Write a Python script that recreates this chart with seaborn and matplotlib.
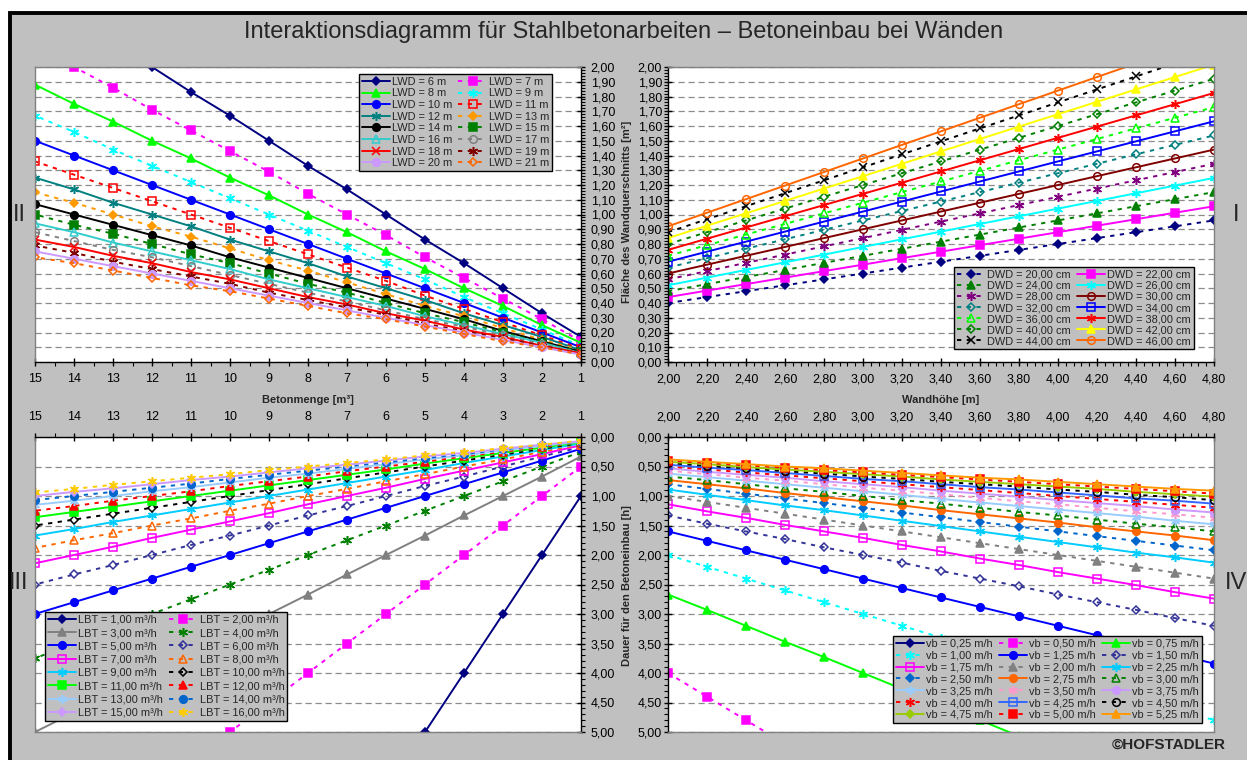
import seaborn as sns
import matplotlib.pyplot as plt
from matplotlib.patches import Rectangle
from matplotlib.ticker import MultipleLocator, FuncFormatter

# ============================================================
# 1. DATA
# ============================================================
volume = [1, 2, 3, 4, 5, 6, 7, 8, 9, 10, 11, 12, 13, 14, 15]          # Betonmenge [m3]
height = [2.0, 2.2, 2.4, 2.6, 2.8, 3.0, 3.2, 3.4, 3.6, 3.8, 4.0, 4.2, 4.4, 4.6, 4.8]  # Wandhoehe [m]

lwd = [6, 7, 8, 9, 10, 11, 12, 13, 14, 15, 16, 17, 18, 19, 20, 21]
area_lwd = [
    [0.17, 0.33, 0.50, 0.67, 0.83, 1.00, 1.17, 1.33, 1.50, 1.67, 1.83, 2.00, 2.17, 2.33, 2.50],
    [0.14, 0.29, 0.43, 0.57, 0.71, 0.86, 1.00, 1.14, 1.29, 1.43, 1.57, 1.71, 1.86, 2.00, 2.14],
    [0.13, 0.25, 0.38, 0.50, 0.63, 0.75, 0.88, 1.00, 1.13, 1.25, 1.38, 1.50, 1.63, 1.75, 1.88],
    [0.11, 0.22, 0.33, 0.44, 0.56, 0.67, 0.78, 0.89, 1.00, 1.11, 1.22, 1.33, 1.44, 1.56, 1.67],
    [0.10, 0.20, 0.30, 0.40, 0.50, 0.60, 0.70, 0.80, 0.90, 1.00, 1.10, 1.20, 1.30, 1.40, 1.50],
    [0.09, 0.18, 0.27, 0.36, 0.45, 0.55, 0.64, 0.73, 0.82, 0.91, 1.00, 1.09, 1.18, 1.27, 1.36],
    [0.08, 0.17, 0.25, 0.33, 0.42, 0.50, 0.58, 0.67, 0.75, 0.83, 0.92, 1.00, 1.08, 1.17, 1.25],
    [0.08, 0.15, 0.23, 0.31, 0.38, 0.46, 0.54, 0.62, 0.69, 0.77, 0.85, 0.92, 1.00, 1.08, 1.15],
    [0.07, 0.14, 0.21, 0.29, 0.36, 0.43, 0.50, 0.57, 0.64, 0.71, 0.79, 0.86, 0.93, 1.00, 1.07],
    [0.07, 0.13, 0.20, 0.27, 0.33, 0.40, 0.47, 0.53, 0.60, 0.67, 0.73, 0.80, 0.87, 0.93, 1.00],
    [0.06, 0.13, 0.19, 0.25, 0.31, 0.38, 0.44, 0.50, 0.56, 0.63, 0.69, 0.75, 0.81, 0.88, 0.94],
    [0.06, 0.12, 0.18, 0.24, 0.29, 0.35, 0.41, 0.47, 0.53, 0.59, 0.65, 0.71, 0.76, 0.82, 0.88],
    [0.06, 0.11, 0.17, 0.22, 0.28, 0.33, 0.39, 0.44, 0.50, 0.56, 0.61, 0.67, 0.72, 0.78, 0.83],
    [0.05, 0.11, 0.16, 0.21, 0.26, 0.32, 0.37, 0.42, 0.47, 0.53, 0.58, 0.63, 0.68, 0.74, 0.79],
    [0.05, 0.10, 0.15, 0.20, 0.25, 0.30, 0.35, 0.40, 0.45, 0.50, 0.55, 0.60, 0.65, 0.70, 0.75],
    [0.05, 0.10, 0.14, 0.19, 0.24, 0.29, 0.33, 0.38, 0.43, 0.48, 0.52, 0.57, 0.62, 0.67, 0.71],
]

dwd = [20, 22, 24, 26, 28, 30, 32, 34, 36, 38, 40, 42, 44, 46]
area_dwd = [
    [0.40, 0.44, 0.48, 0.52, 0.56, 0.60, 0.64, 0.68, 0.72, 0.76, 0.80, 0.84, 0.88, 0.92, 0.96],
    [0.44, 0.484, 0.528, 0.572, 0.616, 0.66, 0.704, 0.748, 0.792, 0.836, 0.88, 0.924, 0.968, 1.012, 1.056],
    [0.48, 0.528, 0.576, 0.624, 0.672, 0.72, 0.768, 0.816, 0.864, 0.912, 0.96, 1.008, 1.056, 1.104, 1.152],
    [0.52, 0.572, 0.624, 0.676, 0.728, 0.78, 0.832, 0.884, 0.936, 0.988, 1.04, 1.092, 1.144, 1.196, 1.248],
    [0.56, 0.616, 0.672, 0.728, 0.784, 0.84, 0.896, 0.952, 1.008, 1.064, 1.12, 1.176, 1.232, 1.288, 1.344],
    [0.60, 0.66, 0.72, 0.78, 0.84, 0.90, 0.96, 1.02, 1.08, 1.14, 1.20, 1.26, 1.32, 1.38, 1.44],
    [0.64, 0.704, 0.768, 0.832, 0.896, 0.96, 1.024, 1.088, 1.152, 1.216, 1.28, 1.344, 1.408, 1.472, 1.536],
    [0.68, 0.748, 0.816, 0.884, 0.952, 1.02, 1.088, 1.156, 1.224, 1.292, 1.36, 1.428, 1.496, 1.564, 1.632],
    [0.72, 0.792, 0.864, 0.936, 1.008, 1.08, 1.152, 1.224, 1.296, 1.368, 1.44, 1.512, 1.584, 1.656, 1.728],
    [0.76, 0.836, 0.912, 0.988, 1.064, 1.14, 1.216, 1.292, 1.368, 1.444, 1.52, 1.596, 1.672, 1.748, 1.824],
    [0.80, 0.88, 0.96, 1.04, 1.12, 1.20, 1.28, 1.36, 1.44, 1.52, 1.60, 1.68, 1.76, 1.84, 1.92],
    [0.84, 0.924, 1.008, 1.092, 1.176, 1.26, 1.344, 1.428, 1.512, 1.596, 1.68, 1.764, 1.848, 1.932, 2.016],
    [0.88, 0.968, 1.056, 1.144, 1.232, 1.32, 1.408, 1.496, 1.584, 1.672, 1.76, 1.848, 1.936, 2.024, 2.112],
    [0.92, 1.012, 1.104, 1.196, 1.288, 1.38, 1.472, 1.564, 1.656, 1.748, 1.84, 1.932, 2.024, 2.116, 2.208],
]

lbt = [1, 2, 3, 4, 5, 6, 7, 8, 9, 10, 11, 12, 13, 14, 15, 16]
time_lbt = [
    [1.00, 2.00, 3.00, 4.00, 5.00, 6.00, 7.00, 8.00, 9.00, 10.00, 11.00, 12.00, 13.00, 14.00, 15.00],
    [0.50, 1.00, 1.50, 2.00, 2.50, 3.00, 3.50, 4.00, 4.50, 5.00, 5.50, 6.00, 6.50, 7.00, 7.50],
    [0.33, 0.67, 1.00, 1.33, 1.67, 2.00, 2.33, 2.67, 3.00, 3.33, 3.67, 4.00, 4.33, 4.67, 5.00],
    [0.25, 0.50, 0.75, 1.00, 1.25, 1.50, 1.75, 2.00, 2.25, 2.50, 2.75, 3.00, 3.25, 3.50, 3.75],
    [0.20, 0.40, 0.60, 0.80, 1.00, 1.20, 1.40, 1.60, 1.80, 2.00, 2.20, 2.40, 2.60, 2.80, 3.00],
    [0.17, 0.33, 0.50, 0.67, 0.83, 1.00, 1.17, 1.33, 1.50, 1.67, 1.83, 2.00, 2.17, 2.33, 2.50],
    [0.14, 0.29, 0.43, 0.57, 0.71, 0.86, 1.00, 1.14, 1.29, 1.43, 1.57, 1.71, 1.86, 2.00, 2.14],
    [0.13, 0.25, 0.38, 0.50, 0.63, 0.75, 0.88, 1.00, 1.13, 1.25, 1.38, 1.50, 1.63, 1.75, 1.88],
    [0.11, 0.22, 0.33, 0.44, 0.56, 0.67, 0.78, 0.89, 1.00, 1.11, 1.22, 1.33, 1.44, 1.56, 1.67],
    [0.10, 0.20, 0.30, 0.40, 0.50, 0.60, 0.70, 0.80, 0.90, 1.00, 1.10, 1.20, 1.30, 1.40, 1.50],
    [0.09, 0.18, 0.27, 0.36, 0.45, 0.55, 0.64, 0.73, 0.82, 0.91, 1.00, 1.09, 1.18, 1.27, 1.36],
    [0.08, 0.17, 0.25, 0.33, 0.42, 0.50, 0.58, 0.67, 0.75, 0.83, 0.92, 1.00, 1.08, 1.17, 1.25],
    [0.08, 0.15, 0.23, 0.31, 0.38, 0.46, 0.54, 0.62, 0.69, 0.77, 0.85, 0.92, 1.00, 1.08, 1.15],
    [0.07, 0.14, 0.21, 0.29, 0.36, 0.43, 0.50, 0.57, 0.64, 0.71, 0.79, 0.86, 0.93, 1.00, 1.07],
    [0.07, 0.13, 0.20, 0.27, 0.33, 0.40, 0.47, 0.53, 0.60, 0.67, 0.73, 0.80, 0.87, 0.93, 1.00],
    [0.06, 0.13, 0.19, 0.25, 0.31, 0.38, 0.44, 0.50, 0.56, 0.63, 0.69, 0.75, 0.81, 0.88, 0.94],
]

vb = [0.25, 0.50, 0.75, 1.00, 1.25, 1.50, 1.75, 2.00, 2.25, 2.50, 2.75,
      3.00, 3.25, 3.50, 3.75, 4.00, 4.25, 4.50, 4.75, 5.00, 5.25]
time_vb = [
    [8.00, 8.80, 9.60, 10.40, 11.20, 12.00, 12.80, 13.60, 14.40, 15.20, 16.00, 16.80, 17.60, 18.40, 19.20],
    [4.00, 4.40, 4.80, 5.20, 5.60, 6.00, 6.40, 6.80, 7.20, 7.60, 8.00, 8.40, 8.80, 9.20, 9.60],
    [2.67, 2.93, 3.20, 3.47, 3.73, 4.00, 4.27, 4.53, 4.80, 5.07, 5.33, 5.60, 5.87, 6.13, 6.40],
    [2.00, 2.20, 2.40, 2.60, 2.80, 3.00, 3.20, 3.40, 3.60, 3.80, 4.00, 4.20, 4.40, 4.60, 4.80],
    [1.60, 1.76, 1.92, 2.08, 2.24, 2.40, 2.56, 2.72, 2.88, 3.04, 3.20, 3.36, 3.52, 3.68, 3.84],
    [1.33, 1.47, 1.60, 1.73, 1.87, 2.00, 2.13, 2.27, 2.40, 2.53, 2.67, 2.80, 2.93, 3.07, 3.20],
    [1.14, 1.26, 1.37, 1.49, 1.60, 1.71, 1.83, 1.94, 2.06, 2.17, 2.29, 2.40, 2.51, 2.63, 2.74],
    [1.00, 1.10, 1.20, 1.30, 1.40, 1.50, 1.60, 1.70, 1.80, 1.90, 2.00, 2.10, 2.20, 2.30, 2.40],
    [0.89, 0.98, 1.07, 1.16, 1.24, 1.33, 1.42, 1.51, 1.60, 1.69, 1.78, 1.87, 1.96, 2.04, 2.13],
    [0.80, 0.88, 0.96, 1.04, 1.12, 1.20, 1.28, 1.36, 1.44, 1.52, 1.60, 1.68, 1.76, 1.84, 1.92],
    [0.73, 0.80, 0.87, 0.95, 1.02, 1.09, 1.16, 1.24, 1.31, 1.38, 1.45, 1.53, 1.60, 1.67, 1.75],
    [0.67, 0.73, 0.80, 0.87, 0.93, 1.00, 1.07, 1.13, 1.20, 1.27, 1.33, 1.40, 1.47, 1.53, 1.60],
    [0.62, 0.68, 0.74, 0.80, 0.86, 0.92, 0.98, 1.05, 1.11, 1.17, 1.23, 1.29, 1.35, 1.42, 1.48],
    [0.57, 0.63, 0.69, 0.74, 0.80, 0.86, 0.91, 0.97, 1.03, 1.09, 1.14, 1.20, 1.26, 1.31, 1.37],
    [0.53, 0.59, 0.64, 0.69, 0.75, 0.80, 0.85, 0.91, 0.96, 1.01, 1.07, 1.12, 1.17, 1.23, 1.28],
    [0.50, 0.55, 0.60, 0.65, 0.70, 0.75, 0.80, 0.85, 0.90, 0.95, 1.00, 1.05, 1.10, 1.15, 1.20],
    [0.47, 0.52, 0.56, 0.61, 0.66, 0.71, 0.75, 0.80, 0.85, 0.89, 0.94, 0.99, 1.04, 1.08, 1.13],
    [0.44, 0.49, 0.53, 0.58, 0.62, 0.67, 0.71, 0.76, 0.80, 0.84, 0.89, 0.93, 0.98, 1.02, 1.07],
    [0.42, 0.46, 0.51, 0.55, 0.59, 0.63, 0.67, 0.72, 0.76, 0.80, 0.84, 0.88, 0.93, 0.97, 1.01],
    [0.40, 0.44, 0.48, 0.52, 0.56, 0.60, 0.64, 0.68, 0.72, 0.76, 0.80, 0.84, 0.88, 0.92, 0.96],
    [0.38, 0.42, 0.46, 0.50, 0.53, 0.57, 0.61, 0.65, 0.69, 0.72, 0.76, 0.80, 0.84, 0.88, 0.91],
]

def de(v, nd=2):
    return f"{v:.{nd}f}".replace(".", ",")

lwd_labels = [f"LWD = {v} m" for v in lwd]
dwd_labels = [f"DWD = {de(v)} cm" for v in dwd]
lbt_labels = [f"LBT = {de(v)} m³/h" for v in lbt]
vb_labels = [f"vb = {de(v)} m/h" for v in vb]

# ============================================================
# 2. SERIES STYLES (colour, marker, dashed, filled)
# ============================================================
AST = (6, 2, 0)
lwd_styles = [
    ("#000080", "D", False, True), ("#FF00FF", "s", True, True),
    ("#00FF00", "^", False, True), ("#00FFFF", AST, True, True),
    ("#0000FF", "o", False, True), ("#FF0000", "s", True, False),
    ("#008080", AST, False, True), ("#FF9900", "D", True, True),
    ("#000000", "o", False, True), ("#008000", "s", True, True),
    ("#33CCCC", "^", False, False), ("#808080", "o", True, False),
    ("#FF0000", "x", False, True), ("#800000", AST, True, True),
    ("#CC99FF", "o", False, True), ("#FF6600", "D", True, False),
]
dwd_styles = [
    ("#000080", "D", True, True), ("#FF00FF", "s", False, True),
    ("#008000", "^", True, True), ("#00FFFF", AST, False, True),
    ("#800080", AST, True, True), ("#800000", "o", False, False),
    ("#008080", "D", True, False), ("#0000FF", "s", False, False),
    ("#00FF00", "^", True, False), ("#FF0000", AST, False, True),
    ("#008000", "D", True, False), ("#FFFF00", "^", False, True),
    ("#000000", "x", True, True), ("#FF6600", "o", False, False),
]
lbt_styles = [
    ("#000080", "D", False, True), ("#FF00FF", "s", True, True),
    ("#808080", "^", False, True), ("#008000", AST, True, True),
    ("#0000FF", "o", False, True), ("#333399", "D", True, False),
    ("#FF00FF", "s", False, False), ("#FF6600", "^", True, False),
    ("#00CCFF", AST, False, True), ("#000000", "D", True, False),
    ("#00FF00", "s", False, True), ("#FF0000", "^", True, True),
    ("#99CCFF", AST, False, True), ("#0066CC", "o", True, True),
    ("#CC99FF", "D", False, True), ("#FFCC00", AST, True, True),
]
vb_styles = [
    ("#000080", "D", False, True), ("#FF00FF", "s", True, True),
    ("#00FF00", "^", False, True), ("#00FFFF", AST, True, True),
    ("#0000FF", "o", False, True), ("#333399", "D", True, False),
    ("#FF00FF", "s", False, False), ("#808080", "^", True, True),
    ("#00CCFF", AST, False, True), ("#0066CC", "D", True, True),
    ("#FF6600", "o", False, True), ("#008000", "^", True, False),
    ("#99CCFF", AST, False, True), ("#FF99CC", AST, True, True),
    ("#CC99FF", "o", False, True), ("#FF0000", AST, True, True),
    ("#3366FF", "s", False, False), ("#000000", "o", True, False),
    ("#99CC00", "D", False, True), ("#FF0000", "s", True, True),
    ("#FF9900", "^", False, True),
]

# ============================================================
# 3. FIGURE SETUP
# ============================================================
sns.set_theme(style="white")
plt.rcParams["font.family"] = ["Liberation Sans", "DejaVu Sans"]
plt.rcParams["axes.unicode_minus"] = False

W, H = 1247, 760
fig = plt.figure(figsize=(W / 100, H / 100), dpi=100)
fig.patch.set_facecolor("white")
fig.add_artist(Rectangle((9.5 / W, -0.05), 1.2, 1.05 - 13 / H,
                         transform=fig.transFigure, facecolor="#C0C0C0",
                         edgecolor="black", linewidth=2.8, zorder=0))


def px_axes(left, top, right, bottom):
    return fig.add_axes([left / W, 1 - bottom / H, (right - left) / W, (bottom - top) / H])


ax2 = px_axes(35, 67, 581, 362)    # II
ax1 = px_axes(668, 67, 1214, 362)  # I
ax3 = px_axes(35, 437, 581, 732)   # III
ax4 = px_axes(668, 437, 1214, 732) # IV

MS = {"D": 4.5, "s": 5.2, "^": 5.5, "o": 5.5, "x": 5.5, AST: 6.5}
DASH = (0, (2.2, 2.8))


def draw_family(ax, xs, table, labels, styles):
    handles = []
    for ys, lab, (col, mk, dashed, filled) in zip(table, labels, styles):
        sns.lineplot(x=xs, y=ys, ax=ax, color=col, marker=mk,
                     linestyle=DASH if dashed else "-", linewidth=1.4,
                     markersize=MS[mk], markerfacecolor=col if filled else "none",
                     markeredgecolor=col, markeredgewidth=1.1,
                     legend=False, sort=False)
        line = ax.lines[-1]
        line.set_label(lab)
        handles.append(line)
    return handles


def style_axes(ax, xlim, ylim, xmaj, xmin, ymaj, ymin, xfmt, ax_x, ax_y):
    ax.set_facecolor("white")
    ax.set_xlim(*xlim)
    ax.set_ylim(*ylim)
    ax.xaxis.set_major_locator(MultipleLocator(xmaj))
    ax.xaxis.set_minor_locator(MultipleLocator(xmin))
    ax.yaxis.set_major_locator(MultipleLocator(ymaj))
    ax.yaxis.set_minor_locator(MultipleLocator(ymin))
    ax.xaxis.set_major_formatter(FuncFormatter(xfmt))
    ax.yaxis.set_major_formatter(FuncFormatter(lambda v, p: de(v)))
    if ax_x == "top":
        ax.xaxis.tick_top()
    else:
        ax.xaxis.tick_bottom()
    if ax_y == "right":
        ax.yaxis.tick_right()
    else:
        ax.yaxis.tick_left()
    for name, sp in ax.spines.items():
        sp.set_color("#808080")
        sp.set_linewidth(1.0)
        sp.set_zorder(3)
    ax.spines[ax_x].set_color("black")
    ax.spines[ax_y].set_color("black")
    ax.tick_params(which="major", direction="inout", length=6, width=1,
                   color="black", labelsize=9, labelcolor="black")
    ax.tick_params(which="minor", direction="out", length=3, width=0.8, color="black")
    ax.tick_params(axis="x", which="major", pad=5 if ax_x == "bottom" else 7)
    ax.tick_params(axis="y", which="major", pad=4 if ax_y == "right" else 1.2)
    ax.grid(axis="y", which="major", color="#8C8C8C", linestyle=(0, (5, 3)), linewidth=0.9)
    ax.set_axisbelow(True)
    ax.set_xlabel("")
    ax.set_ylabel("")


def add_legend(ax, handles, labels, ncol, x0, y0, spacing):
    n = len(handles)
    order = [i for c in range(ncol) for i in range(c, n, ncol)]
    leg = ax.legend([handles[i] for i in order], [labels[i] for i in order],
                    ncol=ncol, loc="upper left", bbox_to_anchor=(x0 / W, 1 - y0 / H),
                    bbox_transform=fig.transFigure, fontsize=7.9, frameon=True,
                    fancybox=False, framealpha=1, facecolor="#C0C0C0", edgecolor="black",
                    handlelength=2.6, handletextpad=0.2, columnspacing=0.5,
                    labelspacing=spacing, borderpad=0.25, borderaxespad=0)
    leg.get_frame().set_linewidth(1.0)
    leg.set_zorder(10)
    return leg


# ============================================================
# 4. DRAW QUADRANTS
# ============================================================
h2 = draw_family(ax2, volume, area_lwd, lwd_labels, lwd_styles)
style_axes(ax2, (15, 1), (0, 2), 1, 0.5, 0.1, 0.02, lambda v, p: f"{v:.0f}", "bottom", "right")
add_legend(ax2, h2, lwd_labels, 2, 359, 74, 0.15)

h1 = draw_family(ax1, height, area_dwd, dwd_labels, dwd_styles)
style_axes(ax1, (2.0, 4.8), (0, 2), 0.2, 0.04, 0.1, 0.02, lambda v, p: de(v), "bottom", "left")
add_legend(ax1, h1, dwd_labels, 2, 954, 267, 0.1)

h3 = draw_family(ax3, volume, time_lbt, lbt_labels, lbt_styles)
style_axes(ax3, (15, 1), (5, 0), 1, 0.5, 0.5, 0.1, lambda v, p: f"{v:.0f}", "top", "right")
add_legend(ax3, h3, lbt_labels, 2, 45, 612, 0.3)

h4 = draw_family(ax4, height, time_vb, vb_labels, vb_styles)
style_axes(ax4, (2.0, 4.8), (5, 0), 0.2, 0.04, 0.5, 0.1, lambda v, p: de(v), "top", "left")
add_legend(ax4, h4, vb_labels, 3, 893, 636, 0.17)

# ============================================================
# 5. TEXTS
# ============================================================
fig.text(0.5, 1 - 32 / H, "Interaktionsdiagramm für Stahlbetonarbeiten – Betoneinbau bei Wänden",
         ha="center", va="center", fontsize=17)
fig.text(308 / W, 1 - 400 / H, "Betonmenge [m³]", ha="center", va="center",
         fontsize=8, fontweight="bold")
fig.text(941 / W, 1 - 400 / H, "Wandhöhe [m]", ha="center", va="center",
         fontsize=8, fontweight="bold")
fig.text(627 / W, 1 - 212 / H, "Fläche des Wandquerschnitts [m²]", ha="center", va="center",
         rotation=90, fontsize=8, fontweight="bold")
fig.text(627 / W, 1 - 586 / H, "Dauer für den Betoneinbau [h]", ha="center", va="center",
         rotation=90, fontsize=8, fontweight="bold")
for txt, x, y in [("II", 19, 215), ("I", 1236, 215), ("III", 19, 583), ("IV", 1236, 583)]:
    fig.text(x / W, 1 - y / H, txt, ha="center", va="center", fontsize=17)
fig.text(1169 / W, 1 - 745 / H, "©HOFSTADLER", ha="center", va="center",
         fontsize=11, fontweight="bold")

fig.savefig("out.png", dpi=100)
